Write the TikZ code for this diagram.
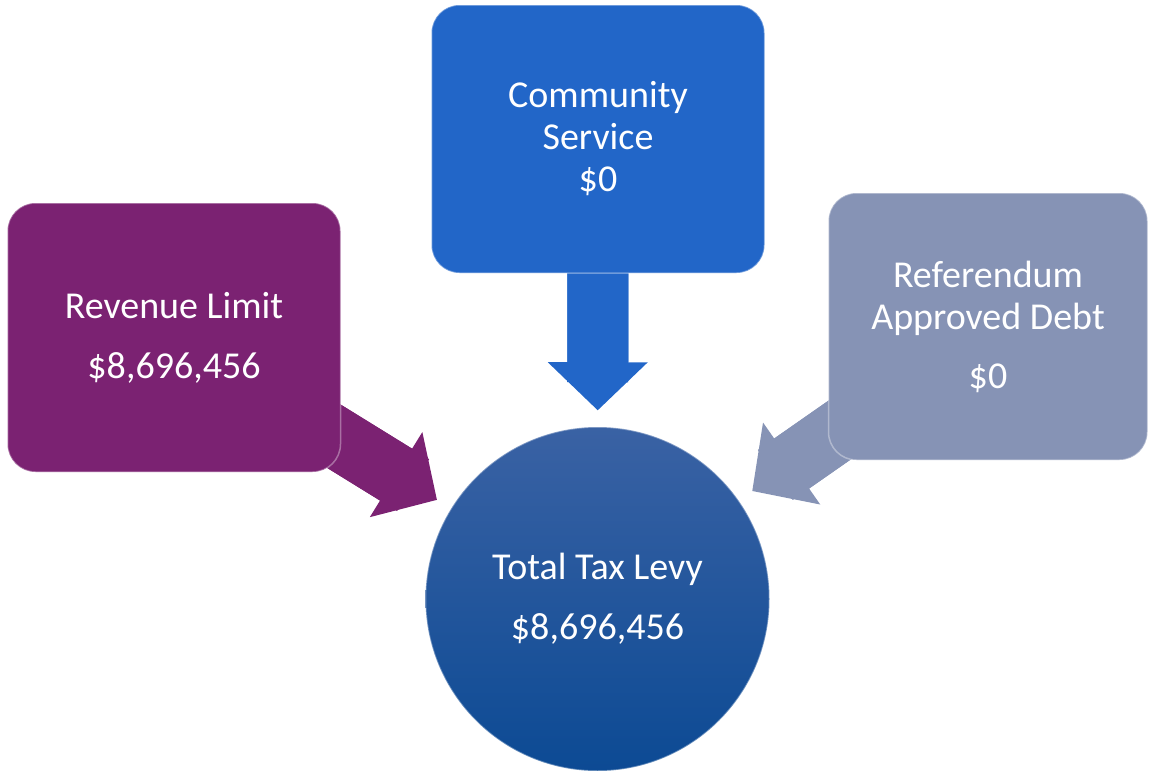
\documentclass[tikz,border=0pt]{standalone}
\usepackage{fontspec}
\setmainfont{Carlito}
\usetikzlibrary{arrows.meta,backgrounds}
\definecolor{limitpurple}{RGB}{123,34,114}
\definecolor{serviceblue}{RGB}{34,102,200}
\definecolor{debtgrey}{RGB}{134,147,181}
\definecolor{levytop}{RGB}{58,98,164}
\definecolor{levybottom}{RGB}{12,74,148}
\begin{document}
\begin{tikzpicture}[x=1pt,y=-1pt,
  box/.style={rounded corners=28pt,inner sep=0pt,text=white,align=center,
    font=\fontsize{38}{42}\selectfont,draw=white,draw opacity=0.35,line width=1.5pt},
  feed/.style={line width=61pt,shorten >=16pt,
    -{Triangle[length=48pt,width=100pt,line width=0pt]}},
  shaft/.style={line width=61pt,shorten >=44pt}]
\useasboundingbox (0,0) rectangle (1149,771);
% the three sources
\node[box,fill=limitpurple,minimum width=333pt,minimum height=269pt] (limit) at (174,337.5)
  {Revenue Limit\\[18pt]\$8,696,456};
\node[box,fill=serviceblue,minimum width=333pt,minimum height=268pt] (service) at (598,139)
  {Community\\Service\\\$0};
\node[box,fill=debtgrey,minimum width=319pt,minimum height=267pt] (debt) at (988,326.5)
  {Referendum\\Approved Debt\\[17pt]\$0};
% the levy
\node[box,circle,minimum size=344pt,top color=levytop,bottom color=levybottom] (levy) at (597.5,599)
  {Total Tax Levy\\[18pt]\$8,696,456};
\begin{pgfonlayer}{background}
\foreach \src/\col in {limit/limitpurple,service/serviceblue,debt/debtgrey}{
  \draw[feed,\col] (\src.center) -- (levy);
  \draw[shaft,\col] (\src.center) -- (levy);
}
\end{pgfonlayer}
\end{tikzpicture}
\end{document}
